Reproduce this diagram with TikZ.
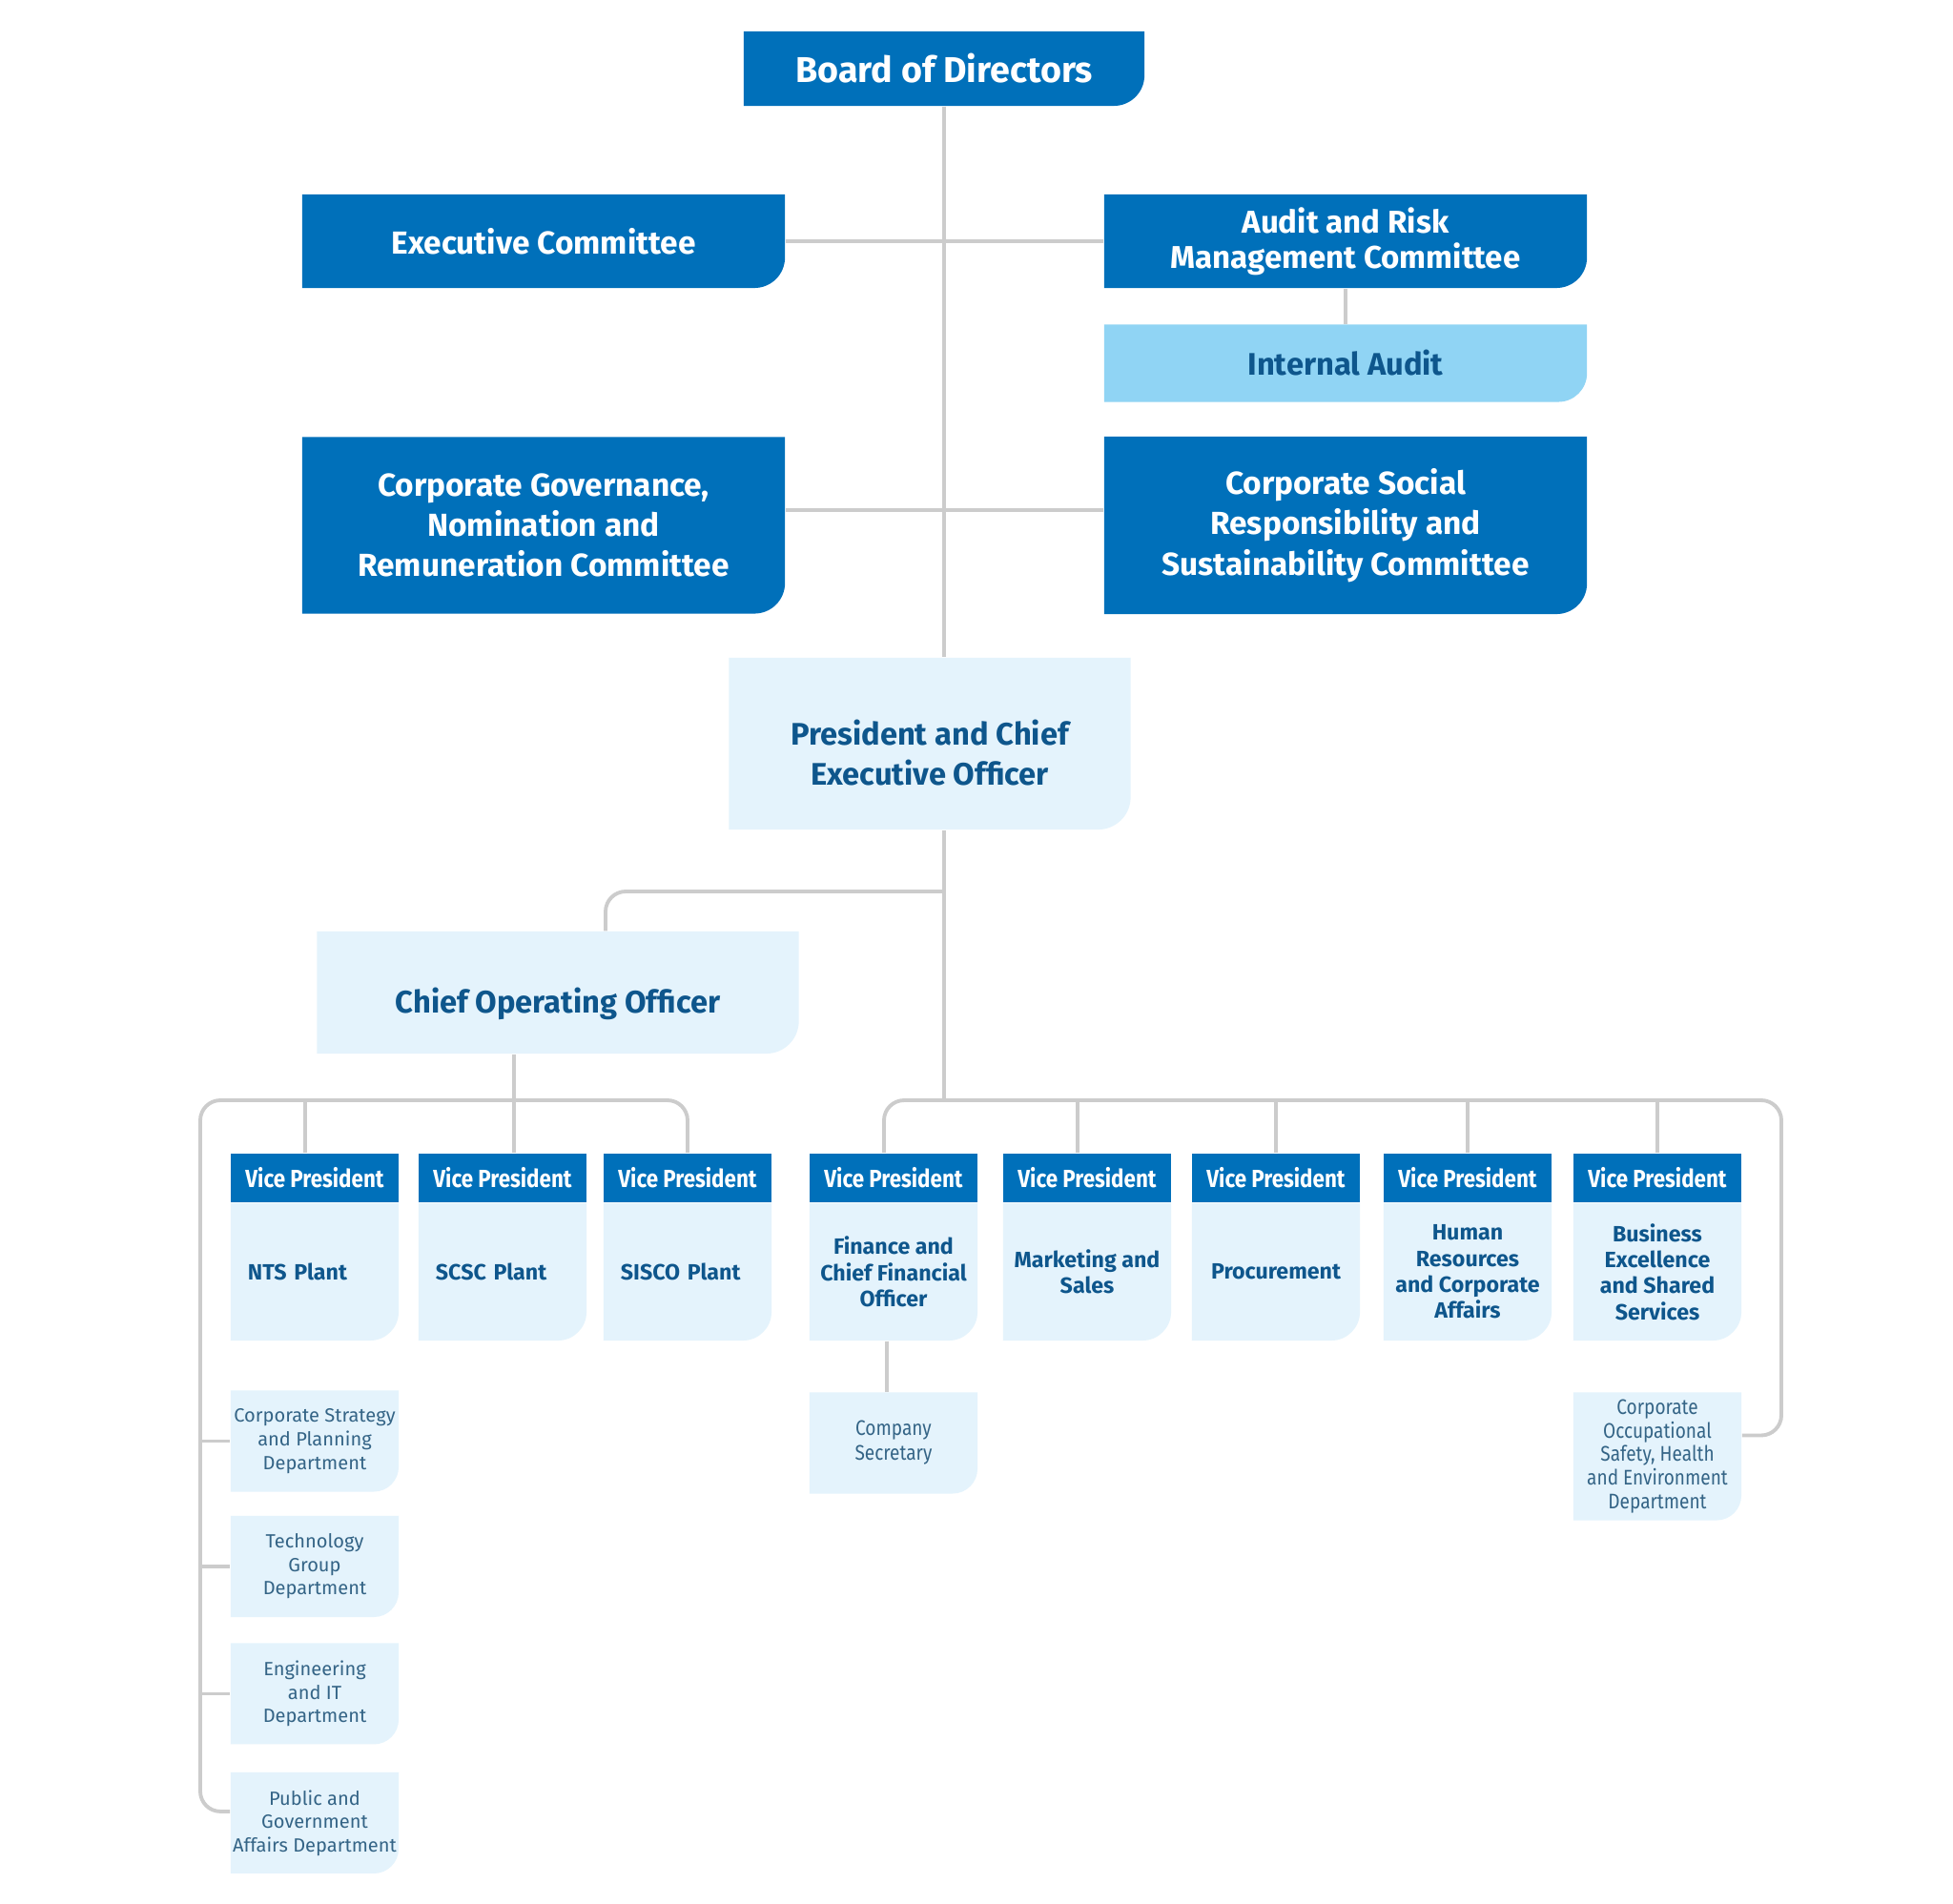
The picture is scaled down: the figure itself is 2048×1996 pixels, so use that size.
\documentclass[tikz,border=0pt]{standalone}
\usepackage{fontspec}
\setmainfont{Fira Sans}
\newfontfamily\narrowfont{Fira Sans}[FakeStretch=0.86]
\usetikzlibrary{positioning}

\definecolor{darkblue}{RGB}{0,112,186}
\definecolor{skyblue}{RGB}{144,212,244}
\definecolor{paleblue}{RGB}{228,243,252}
\definecolor{navy}{RGB}{14,86,140}
\definecolor{deptblue}{RGB}{52,100,134}
\definecolor{linegray}{RGB}{204,204,204}

\tikzset{
  cornerfill/.style 2 args={fill=white, path picture={
    \fill[#1] (path picture bounding box.north west) -- (path picture bounding box.north east)
      -- ([yshift=#2]path picture bounding box.south east)
      arc[start angle=0, end angle=-90, radius=#2]
      -- (path picture bounding box.south west) -- cycle;}}
}

\begin{document}
\begin{tikzpicture}[
    x=0.01cm, y=-0.01cm,
    every node/.style={inner sep=0pt, align=center},
    bluebox/.style={cornerfill={darkblue}{0.32cm}, text=white, minimum width=5.06cm,
      font=\bfseries\fontsize{9.5}{12}\selectfont},
    skybox/.style={cornerfill={skyblue}{0.3cm}, text=navy, minimum width=5.06cm,
      font=\bfseries\fontsize{9.3}{12}\selectfont},
    palebox/.style={cornerfill={paleblue}{0.34cm}, text=navy,
      font=\bfseries\fontsize{9.3}{12}\selectfont},
    vphead/.style={fill=darkblue, text=white, minimum width=1.76cm, minimum height=0.51cm,
      font=\narrowfont\bfseries\fontsize{7.4}{8}\selectfont},
    vpbody/.style={cornerfill={paleblue}{0.3cm}, text=navy, minimum width=1.76cm, minimum height=1.44cm,
      font=\bfseries\fontsize{6.6}{7.8}\selectfont},
    plantbody/.style={vpbody, align=left, text width=1.40cm},
    deptbox/.style={cornerfill={paleblue}{0.26cm}, text=deptblue, minimum width=1.76cm, minimum height=1.06cm,
      font=\fontsize{5.7}{7}\selectfont},
    conn/.style={draw=linegray, line width=1.1pt}
  ]
    \path[fill=white, use as bounding box] (0,0) rectangle (2048,1996);

    % Board and committees
    \node[bluebox, minimum width=4.2cm, minimum height=0.78cm, font=\bfseries\fontsize{10.7}{12}\selectfont]
      (board) at (990,72) {Board of Directors};
    \node[bluebox, minimum height=0.98cm] (exec) at (570,253) {Executive Committee};
    \node[bluebox, minimum height=0.98cm, font=\bfseries\fontsize{9.4}{10.4}\selectfont]
      (audit) at (1411,253) {Audit and Risk\\Management Committee};
    \node[skybox, minimum height=0.81cm] (intaudit) at (1411,381) {Internal Audit};
    \node[bluebox, minimum height=1.85cm] (govern) at (570,551)
      {Corporate Governance,\\Nomination and\\Remuneration Committee};
    \node[bluebox, minimum height=1.86cm] (csr) at (1411,551)
      {Corporate Social\\Responsibility and\\Sustainability Committee};

    % Executives
    \node[palebox, minimum width=4.21cm, minimum height=1.8cm] (ceo) at (975,780)
      {\rule{0pt}{13pt}President and Chief\\Executive Officer};
    \node[palebox, minimum width=5.05cm, minimum height=1.28cm] (coo) at (585,1041)
      {\rule{0pt}{14pt}Chief Operating Officer};

    % Vice presidents
    \node[vphead] (nts-head) at (330,1235) {Vice President};
    \node[plantbody, below=0pt of nts-head] (nts) {NTS Plant};
    \node[vphead] (scsc-head) at (527,1235) {Vice President};
    \node[plantbody, below=0pt of scsc-head] (scsc) {SCSC Plant};
    \node[vphead] (sisco-head) at (721,1235) {Vice President};
    \node[plantbody, below=0pt of sisco-head] (sisco) {SISCO Plant};
    \node[vphead] (fin-head) at (937,1235) {Vice President};
    \node[vpbody, below=0pt of fin-head] (fin) {Finance and\\Chief Financial\\Officer};
    \node[vphead] (mkt-head) at (1140,1235) {Vice President};
    \node[vpbody, below=0pt of mkt-head] (mkt) {Marketing and\\Sales};
    \node[vphead] (proc-head) at (1338,1235) {Vice President};
    \node[vpbody, below=0pt of proc-head] (proc) {Procurement};
    \node[vphead] (hr-head) at (1539,1235) {Vice President};
    \node[vpbody, below=0pt of hr-head] (hr) {Human\\Resources\\and Corporate\\Affairs};
    \node[vphead] (bes-head) at (1738,1235) {Vice President};
    \node[vpbody, below=0pt of bes-head] (bes) {Business\\Excellence\\and Shared\\Services};

    % Departments
    \node[deptbox, below=0.51cm of nts] (strategy) {Corporate Strategy\\and Planning\\Department};
    \node[deptbox, below=0.24cm of strategy] (techgroup) {Technology\\Group\\Department};
    \node[deptbox, below=0.26cm of techgroup] (engit) {Engineering\\and IT\\Department};
    \node[deptbox, below=0.28cm of engit] (pubgov) {Public and\\Government\\Affairs Department};
    \node[deptbox, below=0.53cm of fin, font=\narrowfont\fontsize{6.3}{7.4}\selectfont]
      (cosec) {Company\\Secretary};
    \node[deptbox, below=0.53cm of bes, minimum height=1.34cm, font=\narrowfont\fontsize{6.3}{7}\selectfont]
      (safety) {Corporate\\Occupational\\Safety, Health\\and Environment\\Department};

    % Connectors
    \coordinate (lspine) at (210,1154);
    \coordinate (rspine) at (1868,1154);
    \coordinate (coojoin) at (635,935);
    \coordinate (pubjoin) at ([yshift=0.12cm]pubgov.west);
    \coordinate (safetyjoin) at ([yshift=0.22cm]safety.east);
    \draw[conn] (board.south) -- (board.south |- ceo.north);
    \draw[conn] (exec.east) -- (audit.west);
    \draw[conn] (audit) -- (intaudit);
    \draw[conn] ([yshift=0.16cm]govern.east) -- ([yshift=0.16cm]csr.west);
    \draw[conn] (board.south |- ceo.south) -- (board.south |- rspine);
    \draw[conn, rounded corners=6pt] (board.south |- coojoin) -| (coojoin |- coo.north);
    \draw[conn] ([xshift=0.12cm]scsc-head.north |- coo.south) -- ([xshift=0.12cm]scsc-head.north);
    \draw[conn, rounded corners=6pt] (sisco-head.north) -- (sisco-head.north |- lspine)
      -- (lspine) -- (lspine |- pubjoin) -- (pubjoin);
    \draw[conn] ([xshift=-0.1cm]nts-head.north |- lspine) -- ([xshift=-0.1cm]nts-head.north);
    \draw[conn] (lspine |- strategy.west) -- (strategy.west);
    \draw[conn] (lspine |- techgroup.west) -- (techgroup.west);
    \draw[conn] (lspine |- engit.west) -- (engit.west);
    \draw[conn, rounded corners=6pt] ([xshift=-0.1cm]fin-head.north) -- ([xshift=-0.1cm]fin-head.north |- rspine)
      -- (rspine) -- (rspine |- safetyjoin) -- (safetyjoin);
    \draw[conn] ([xshift=-0.1cm]mkt-head.north |- rspine) -- ([xshift=-0.1cm]mkt-head.north);
    \draw[conn] (proc-head.north |- rspine) -- (proc-head.north);
    \draw[conn] (hr-head.north |- rspine) -- (hr-head.north);
    \draw[conn] (bes-head.north |- rspine) -- (bes-head.north);
    \draw[conn] ([xshift=-0.07cm]fin.south) -- ([xshift=-0.07cm]fin.south |- cosec.north);
  \end{tikzpicture}
\end{document}
